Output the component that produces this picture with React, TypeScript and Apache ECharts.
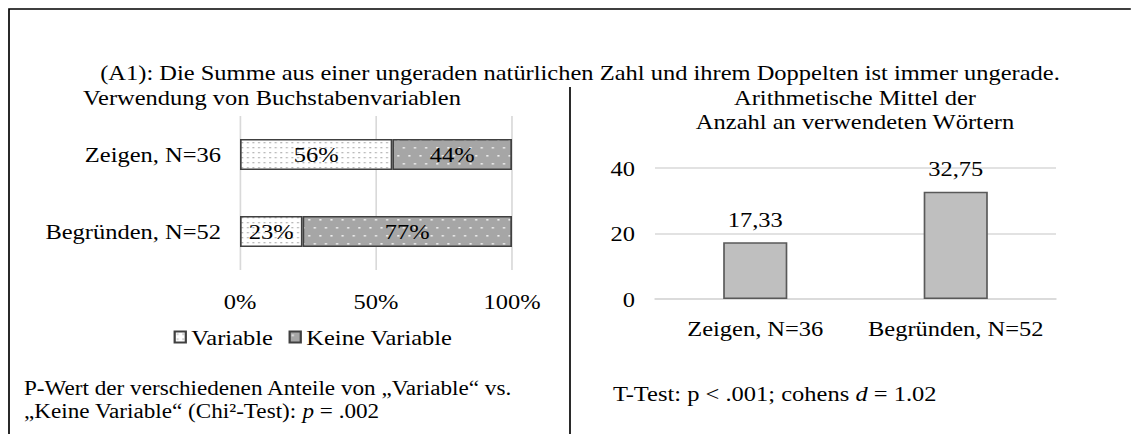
import React, { useEffect, useRef } from 'react';
import * as echarts from 'echarts';

const mainTitle = '(A1): Die Summe aus einer ungeraden natürlichen Zahl und ihrem Doppelten ist immer ungerade.';
const leftTitle = 'Verwendung von Buchstabenvariablen';
const rightTitle = 'Arithmetische Mittel der\nAnzahl an verwendeten Wörtern';
const groups = ['Zeigen, N=36', 'Begründen, N=52'];
const shareNames = ['Variable', 'Keine Variable'];
const variableShare = [56, 23];
const keineShare = [44, 77];
const meanWords = [17.33, 32.75];
const leftNoteLine1 = 'P-Wert der verschiedenen Anteile von \u201EVariable\u201C vs.';
const leftNoteLine2a = '\u201EKeine Variable\u201C (Chi\u00B2-Test): ';
const rightNoteA = 'T-Test: p < .001; cohens ';

const FONT = '"Liberation Serif", "Times New Roman", serif';
const FS = 22;
const NOTE_FS = 20.8;
// the reference picture is stretched horizontally relative to its text height
const SX = 1.113;
const PAGE_W = 1131;
const PAGE_H = 434;
const W = PAGE_W / SX;
const X = (px: number) => px / SX;

function makeTile(w: number, h: number, bg: string, dot: string, dots: number[][], r: number) {
  const c = document.createElement('canvas');
  c.width = w;
  c.height = h;
  const ctx = c.getContext('2d')!;
  ctx.fillStyle = bg;
  ctx.fillRect(0, 0, w, h);
  ctx.fillStyle = dot;
  dots.forEach(([x, y]) => {
    ctx.fillRect(x, y, r, r);
  });
  return c;
}

export default function App() {
  const ref = useRef<HTMLDivElement>(null);
  useEffect(() => {
    if (!ref.current) return;
    const chart = echarts.init(ref.current, null, { renderer: 'svg' });
    const lightTile = makeTile(5, 5, '#ffffff', '#9a9a9a', [[2, 2]], 1.3);
    const darkTile = makeTile(10, 16, '#a6a6a6', '#ffffff', [[2, 3], [7, 11]], 1.6);
    const lightPattern: any = { image: lightTile, repeat: 'repeat', imageWidth: 5, imageHeight: 5 };
    const darkPattern: any = { image: darkTile, repeat: 'repeat', imageWidth: 10, imageHeight: 16 };

    const txt = (text: string, x: number, y: number, align: string = 'left', extra: any = {}) => ({
      type: 'text',
      x,
      y,
      style: {
        text,
        fill: '#000',
        fontFamily: FONT,
        fontSize: FS,
        textAlign: align,
        textVerticalAlign: 'middle',
        ...extra,
      },
    });

    chart.setOption({
      animation: false,
      backgroundColor: '#ffffff',
      textStyle: { fontFamily: FONT, color: '#000' },
      legend: {
        data: shareNames,
        left: X(168),
        top: 321,
        itemWidth: 10,
        itemHeight: 11,
        itemGap: 14,
        icon: 'rect',
        textStyle: { fontFamily: FONT, fontSize: FS, color: '#000', padding: [2, 0, 0, 0] },
      },
      grid: [
        { left: X(240), width: X(272), top: 116, height: 154 },
        { left: X(655), width: X(401), top: 168, height: 131 },
      ],
      xAxis: [
        {
          type: 'value',
          gridIndex: 0,
          min: 0,
          max: 100,
          interval: 50,
          axisLine: { show: false },
          axisTick: { show: false },
          splitLine: { lineStyle: { color: '#d9d9d9', width: 1.5 } },
          axisLabel: { formatter: '{value}%', fontFamily: FONT, fontSize: FS, color: '#000', margin: 20 },
        },
        {
          type: 'category',
          gridIndex: 1,
          data: groups,
          axisLine: { lineStyle: { color: '#d9d9d9', width: 1.5 } },
          axisTick: { show: false },
          axisLabel: { interval: 0, fontFamily: FONT, fontSize: FS, color: '#000', margin: 18 },
        },
      ],
      yAxis: [
        {
          type: 'category',
          gridIndex: 0,
          data: groups,
          inverse: true,
          axisLine: { show: false },
          axisTick: { show: false },
          axisLabel: { interval: 0, fontFamily: FONT, fontSize: FS, color: '#000', margin: X(19) },
        },
        {
          type: 'value',
          gridIndex: 1,
          min: 0,
          max: 40,
          interval: 20,
          axisLine: { show: false },
          axisTick: { show: false },
          splitLine: { lineStyle: { color: '#d9d9d9', width: 1.5 } },
          axisLabel: { fontFamily: FONT, fontSize: FS, color: '#000', margin: X(20) },
        },
      ],
      series: [
        {
          name: shareNames[0],
          type: 'bar',
          xAxisIndex: 0,
          yAxisIndex: 0,
          stack: 'share',
          barWidth: '40%',
          data: variableShare,
          itemStyle: { color: lightPattern, borderColor: '#404040', borderWidth: 1.5 },
          label: { show: true, position: 'inside', formatter: '{c}%', fontFamily: FONT, fontSize: FS, color: '#000' },
        },
        {
          name: shareNames[1],
          type: 'bar',
          xAxisIndex: 0,
          yAxisIndex: 0,
          stack: 'share',
          barWidth: '40%',
          data: keineShare,
          itemStyle: { color: darkPattern, borderColor: '#404040', borderWidth: 1.5 },
          label: { show: true, position: 'inside', formatter: '{c}%', fontFamily: FONT, fontSize: FS, color: '#000' },
        },
        {
          name: 'Mittel',
          type: 'bar',
          xAxisIndex: 1,
          yAxisIndex: 1,
          barWidth: '32%',
          data: meanWords,
          itemStyle: { color: '#bfbfbf', borderColor: '#595959', borderWidth: 1.5 },
          label: {
            show: true,
            position: 'top',
            distance: 12,
            formatter: (p: any) => Number(p.value).toFixed(2).replace('.', ','),
            fontFamily: FONT,
            fontSize: FS,
            color: '#000',
          },
        },
      ],
      graphic: [
        {
          type: 'rect',
          shape: { x: X(9), y: 9, width: 1200, height: 600 },
          style: { fill: 'none', stroke: '#000', lineWidth: 1.5 },
          silent: true,
        },
        {
          type: 'line',
          shape: { x1: X(570), y1: 87, x2: X(570), y2: 440 },
          style: { stroke: '#000', lineWidth: 1.5 },
          silent: true,
        },
        txt(mainTitle, X(580), 72, 'center'),
        txt(leftTitle, X(272), 97, 'center'),
        txt(rightTitle, X(855), 109, 'center', { lineHeight: 24 }),
        txt(leftNoteLine1, X(24), 388, 'left', { fontSize: NOTE_FS }),
        {
          type: 'text',
          x: X(24),
          y: 411,
          style: {
            text: leftNoteLine2a + '{i|p} = .002',
            fill: '#000',
            fontFamily: FONT,
            fontSize: NOTE_FS,
            textAlign: 'left',
            textVerticalAlign: 'middle',
            rich: { i: { fontStyle: 'italic', fontFamily: FONT, fontSize: NOTE_FS } },
          },
        },
        {
          type: 'text',
          x: X(613),
          y: 393,
          style: {
            text: rightNoteA + '{i|d} = 1.02',
            fill: '#000',
            fontFamily: FONT,
            fontSize: FS,
            textAlign: 'left',
            textVerticalAlign: 'middle',
            rich: { i: { fontStyle: 'italic', fontFamily: FONT, fontSize: FS } },
          },
        },
      ],
    });
    return () => chart.dispose();
  }, []);
  return (
    <div
      ref={ref}
      style={{
        position: 'fixed',
        left: 0,
        top: 0,
        width: W,
        height: PAGE_H,
        background: '#fff',
        transform: `scaleX(${SX})`,
        transformOrigin: '0 0',
      }}
    />
  );
}
